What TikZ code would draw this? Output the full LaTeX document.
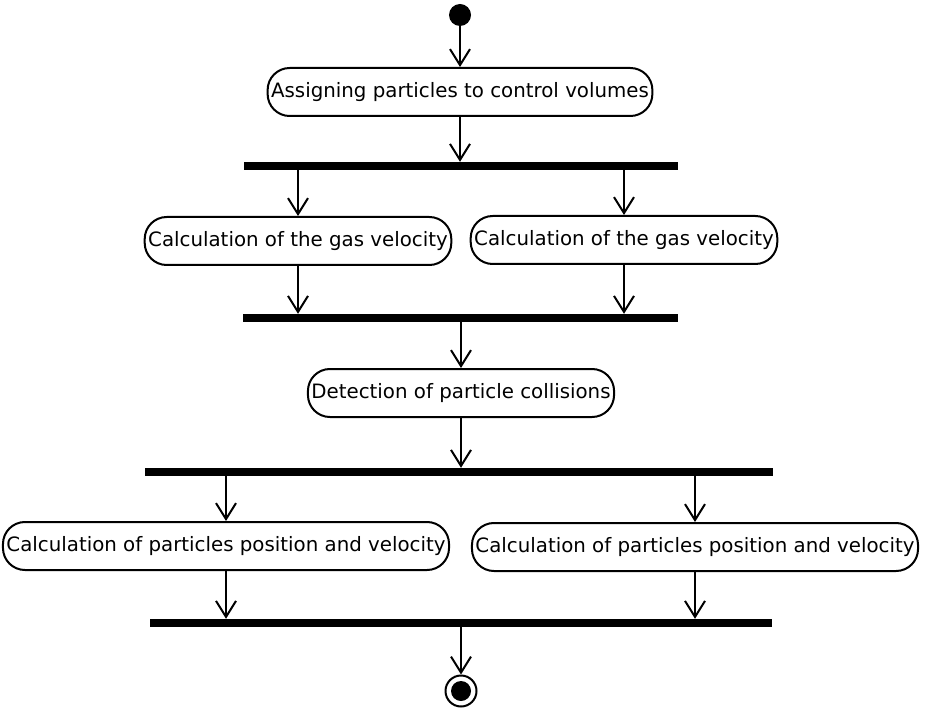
\documentclass[tikz,border=0pt]{standalone}
\usepackage{fontspec}
\setmainfont{DejaVu Sans}
\usetikzlibrary{arrows.meta, positioning, calc}
\tikzset{
  >=Stealth,
  flowarrow/.style={-{Straight Barb[length=16pt, width=20pt]}, line width=2pt}
}

\begin{document}
\begin{tikzpicture}[
    x=1pt, y=-1pt,
    action/.style={rectangle, draw, line width=2pt, rounded corners=22pt, minimum height=48pt, inner xsep=3.5pt, font=\fontsize{19.8}{23}\selectfont},
    forkbar/.style={rectangle, fill=black, inner sep=0pt, minimum height=8pt},
    initnode/.style={circle, fill=black, inner sep=0pt, minimum size=22pt},
    finalnode/.style={circle, draw, line width=2pt, inner sep=0pt, minimum size=31pt},
    finaldot/.style={circle, fill=black, inner sep=0pt, minimum size=20pt}
]
    \useasboundingbox (0,0) rectangle (925,708);

    \node[initnode] (start) at (460, 15) {};
    \node[action] (assign) at (460, 92) {Assigning particles to control volumes};
    \node[forkbar, minimum width=434pt] (fork1) at (461, 166) {};
    \node[action] (gasA) at (298, 241) {Calculation of the gas velocity};
    \node[action] (gasB) at (624, 240) {Calculation of the gas velocity};
    \node[forkbar, minimum width=435pt] (join1) at (460.5, 318) {};
    \node[action] (collide) at (461, 393) {Detection of particle collisions};
    \node[forkbar, minimum width=628pt] (fork2) at (459, 472) {};
    \node[action] (moveA) at (226, 546) {Calculation of particles position and velocity};
    \node[action] (moveB) at (695, 547) {Calculation of particles position and velocity};
    \node[forkbar, minimum width=622pt] (join2) at (461, 623) {};
    \node[finalnode] (stop) at (461, 691) {};
    \node[finaldot] (stopdot) at (stop) {};

    \draw[flowarrow] (start) -- (assign);
    \draw[flowarrow] (assign) -- (assign.south |- fork1.north);

    % split into the two gas velocity steps
    \draw[flowarrow] (fork1.south -| gasA.north) -- (gasA);
    \draw[flowarrow] (fork1.south -| gasB.north) -- (gasB);
    \draw[flowarrow] (gasA) -- (gasA.south |- join1.north);
    \draw[flowarrow] (gasB) -- (gasB.south |- join1.north);

    \draw[flowarrow] (join1.south -| collide.north) -- (collide);
    \draw[flowarrow] (collide) -- (collide.south |- fork2.north);

    % split into the two position/velocity steps
    \draw[flowarrow] (fork2.south -| moveA.north) -- (moveA);
    \draw[flowarrow] (fork2.south -| moveB.north) -- (moveB);
    \draw[flowarrow] (moveA) -- (moveA.south |- join2.north);
    \draw[flowarrow] (moveB) -- (moveB.south |- join2.north);

    \draw[flowarrow] (join2.south -| stop.north) -- (stop);
\end{tikzpicture}
\end{document}
